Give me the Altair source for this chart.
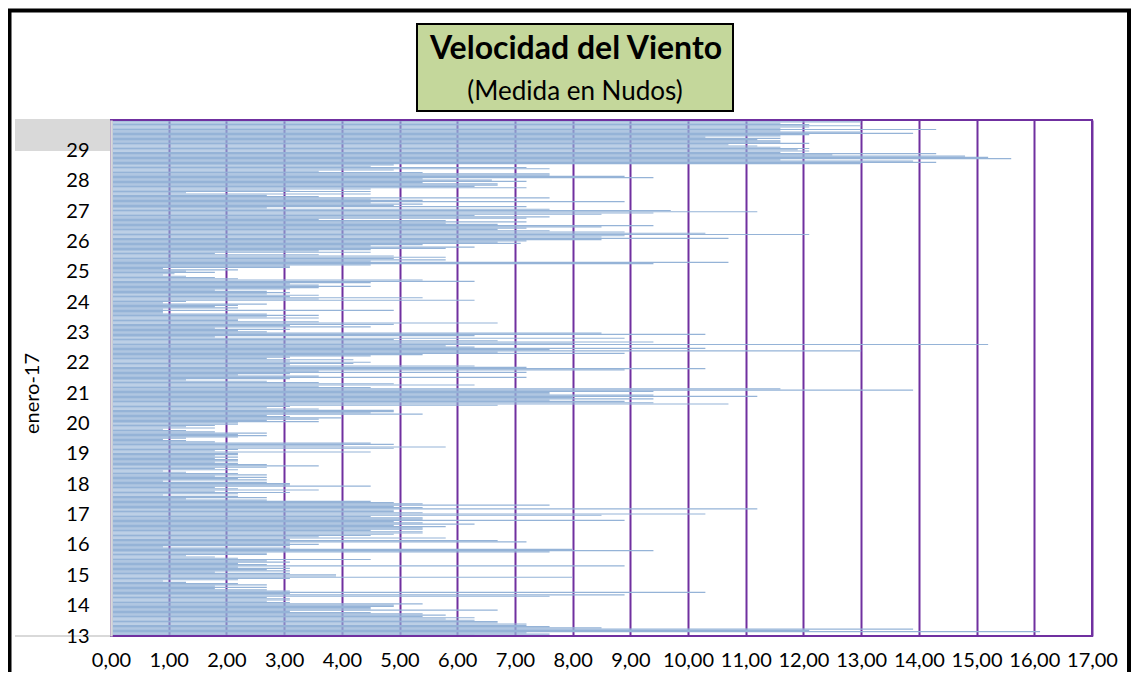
import altair as alt
import pandas as pd

# ---------------- data (knots, hourly, hour 0 -> 23 of each day of enero-17) ----------------
dia_13 = [6.3, 7.6, 7.2, 16.1, 12.1, 13.9, 8.5, 7.6, 7.2, 7.2, 6.7, 6.7, 6.3, 5.8, 6.3, 5.4, 5.8, 5.4, 4.5, 3.1, 6.7, 4.5, 4.5, 4.9]
dia_14 = [4.9, 5.4, 3.1, 2.7, 3.1, 3.1, 2.7, 7.6, 8.9, 3.1, 10.3, 3.1, 2.7, 1.8, 2.7, 1.8, 2.7, 2.2, 1.3, 0.9, 2.2, 3.1, 8.0, 3.9]
dia_15 = [3.9, 3.1, 1.8, 3.1, 2.7, 3.1, 2.2, 8.9, 2.7, 2.2, 3.1, 2.7, 4.5, 2.2, 1.8, 1.3, 2.7, 2.7, 7.6, 9.4, 8.0, 3.1, 0.9, 3.1]
dia_16 = [3.6, 3.1, 7.2, 6.7, 3.1, 5.8, 3.6, 4.5, 4.9, 5.4, 5.4, 4.5, 5.4, 5.4, 5.8, 4.9, 6.3, 5.4, 4.9, 8.9, 5.4, 5.4, 4.5, 8.5]
dia_17 = [10.3, 5.4, 4.9, 4.9, 11.2, 5.4, 4.9, 7.6, 5.4, 4.9, 4.5, 2.7, 1.3, 2.7, 2.2, 0.9, 2.2, 3.1, 1.8, 3.6, 2.2, 1.8, 4.5, 3.1]
dia_18 = [3.1, 2.7, 0.9, 2.7, 2.2, 2.7, 1.8, 2.7, 2.2, 1.3, 0.9, 2.2, 1.8, 2.7, 3.6, 2.7, 2.2, 1.8, 2.2, 2.2, 1.8, 2.2, 1.8, 2.2]
dia_19 = [2.2, 4.5, 1.8, 2.2, 4.9, 5.8, 4.0, 4.9, 4.5, 1.8, 1.3, 0.9, 1.3, 2.2, 2.7, 2.2, 2.7, 1.8, 1.3, 0.9, 1.8, 1.3, 1.8, 2.2]
dia_20 = [2.2, 3.6, 2.7, 3.6, 4.0, 3.1, 2.7, 5.4, 4.5, 4.9, 4.9, 3.6, 2.7, 3.1, 6.7, 10.7, 9.4, 8.9, 7.6, 9.4, 8.0, 11.2, 9.4, 7.6]
dia_21 = [7.6, 9.4, 13.9, 11.6, 4.5, 3.6, 6.3, 4.9, 3.6, 2.7, 1.3, 3.1, 7.2, 3.6, 2.2, 3.1, 7.2, 3.6, 8.9, 10.3, 7.2, 6.3, 3.1, 4.2]
dia_22 = [4.5, 3.1, 4.2, 2.7, 3.1, 4.5, 5.4, 8.9, 6.7, 13.0, 7.6, 10.3, 6.3, 5.8, 15.2, 8.0, 9.4, 6.7, 4.9, 8.9, 1.8, 6.3, 10.3, 8.5]
dia_23 = [2.7, 2.2, 3.1, 1.8, 4.5, 3.1, 4.9, 6.7, 3.6, 2.2, 2.2, 3.6, 2.7, 3.6, 2.7, 0.9, 0.9, 4.9, 0.9, 2.2, 1.8, 2.2, 2.7, 0.9]
dia_24 = [1.3, 6.3, 3.6, 5.4, 3.1, 3.6, 2.7, 3.1, 2.7, 1.8, 3.1, 3.6, 4.5, 3.6, 3.1, 4.5, 6.3, 5.4, 2.2, 1.8, 1.3, 0.9, 1.1, 1.8]
dia_25 = [1.3, 2.2, 0.9, 3.1, 3.1, 4.5, 9.4, 10.7, 4.5, 5.8, 4.9, 5.8, 4.9, 3.6, 1.8, 4.5, 3.6, 4.5, 5.8, 6.3, 4.5, 5.4, 7.1, 6.7]
dia_26 = [7.2, 8.5, 10.7, 8.5, 8.9, 12.1, 10.3, 8.9, 7.6, 6.7, 7.2, 8.5, 9.4, 6.7, 5.8, 7.2, 5.8, 3.6, 7.2, 7.6, 6.3, 8.5, 9.4, 11.2]
dia_27 = [9.7, 7.6, 2.7, 7.2, 4.9, 5.4, 4.5, 8.9, 5.4, 4.5, 7.6, 3.6, 2.7, 4.5, 1.3, 4.5, 3.1, 4.5, 7.2, 6.3, 6.7, 6.7, 5.4, 7.2]
dia_28 = [6.6, 5.4, 9.4, 8.9, 7.6, 7.6, 5.4, 3.6, 4.9, 7.6, 7.2, 4.5, 4.9, 13.0, 14.3, 13.9, 11.6, 15.6, 15.2, 14.8, 12.5, 14.3, 11.6, 12.1]
dia_29 = [11.9, 12.1, 11.6, 11.2, 10.7, 12.1, 11.6, 11.6, 11.2, 11.6, 10.3, 11.6, 12.1, 13.9, 13.0, 11.6, 14.3, 11.6, 12.1, 13.0, 12.1, 11.6, 13.0, 11.6]

dias = [13, 14, 15, 16, 17, 18, 19, 20, 21, 22, 23, 24, 25, 26, 27, 28, 29]
series = [dia_13, dia_14, dia_15, dia_16, dia_17, dia_18, dia_19, dia_20, dia_21,
          dia_22, dia_23, dia_24, dia_25, dia_26, dia_27, dia_28, dia_29]
x_ticks = list(range(0, 18))
titulo = "Velocidad del Viento"
subtitulo = "(Medida en Nudos)"
eje_y = "enero-17"

rows = []
for d, vals in zip(dias, series):
    for h, v in enumerate(vals):
        rows.append({"dia": d, "hora": h, "t": d + h / 24.0, "v": v})
df = pd.DataFrame(rows)
one = pd.DataFrame({"k": [0]})

W, H = 981, 516
FONT = "Lato"

bars = alt.Chart(df).transform_calculate(
    t2="datum.t + 0.92/24", zero="0"
).mark_rect(color="#95B3D7").encode(
    x=alt.X("zero:Q",
            scale=alt.Scale(domain=[0, 17], nice=False, zero=True),
            axis=alt.Axis(values=x_ticks, grid=True, gridColor="#7030A0", gridWidth=2,
                          domain=False, ticks=False, tickSize=0, labelPadding=14,
                          labelFlush=False, labelBound=False,
                          labelExpr="replace(format(datum.value, '.2f'), '.', ',')",
                          labelFont=FONT, labelFontSize=20, labelColor="#000000",
                          labelOverlap=False, title=None)),
    x2="v:Q",
    y=alt.Y("t:Q",
            scale=alt.Scale(domain=[13, 30], nice=False, zero=False),
            axis=alt.Axis(values=dias, format="d", grid=False, domain=True,
                          domainColor="#D9D9D9", domainWidth=2.5, ticks=False, tickSize=0,
                          labelPadding=22, labelFont=FONT, labelFontSize=20,
                          labelFlush=False, labelBound=False,
                          labelColor="#000000", labelBaseline="middle", zindex=1,
                          title=eje_y, titleFont=FONT, titleFontSize=20,
                          titleFontWeight="normal", titleColor="#000000",
                          titleX=-79, titleY=273, titleAngle=270,
                          titleAlign="center", titleBaseline="middle")),
    y2="t2:Q",
)

grey_box = alt.Chart(one).mark_rect(color="#D9D9D9").encode(
    x=alt.value(-96), x2=alt.value(0), y=alt.value(-1), y2=alt.value(31))

grey_rule = alt.Chart(one).mark_rule(color="#D9D9D9", strokeWidth=2).encode(
    x=alt.value(-96), x2=alt.value(0), y=alt.value(H))

plot_frame = alt.Chart(one).mark_rect(fillOpacity=0, stroke="#7030A0", strokeWidth=2).encode(
    x=alt.value(0), x2=alt.value(W), y=alt.value(0), y2=alt.value(H))

outer_frame = alt.Chart(one).mark_rect(fillOpacity=0, stroke="#000000", strokeWidth=4).encode(
    x=alt.value(-101.5), x2=alt.value(1018), y=alt.value(-109.5), y2=alt.value(640))

title_box = alt.Chart(one).mark_rect(fill="#C4D79B", stroke="#000000", strokeWidth=2).encode(
    x=alt.value(306), x2=alt.value(622), y=alt.value(-96), y2=alt.value(-9))

title_text = alt.Chart(one).mark_text(font=FONT, fontSize=32, fontWeight="bold",
                                      color="#000000", baseline="alphabetic", align="center").encode(
    x=alt.value(465), y=alt.value(-61), text=alt.value(titulo))

sub_text = alt.Chart(one).mark_text(font=FONT, fontSize=26, color="#000000",
                                    baseline="alphabetic", align="center").encode(
    x=alt.value(464), y=alt.value(-20), text=alt.value(subtitulo))

chart = alt.layer(
    grey_box, bars, grey_rule, plot_frame, outer_frame, title_box, title_text, sub_text
).properties(
    width=W, height=H,
    autosize=alt.AutoSizeParams(type="none"),
    padding={"left": 103, "top": 112, "right": 39, "bottom": 36},
    background="#FFFFFF",
).configure_view(stroke=None)

chart.save("out.html", embed_options={"renderer": "svg", "actions": False})
